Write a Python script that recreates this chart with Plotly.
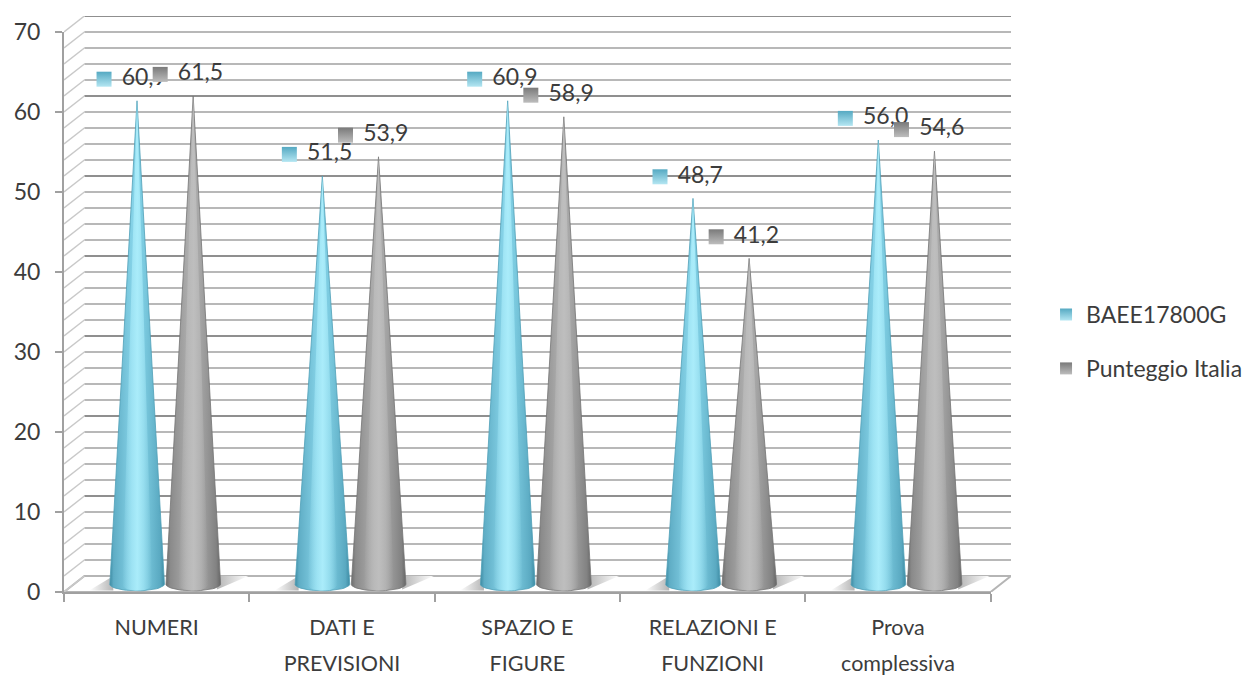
import numpy as np
import plotly.graph_objects as go

categories = ["NUMERI", "DATI E<br>PREVISIONI", "SPAZIO E<br>FIGURE", "RELAZIONI E<br>FUNZIONI", "Prova<br>complessiva"]
baee = [60.9, 51.5, 60.9, 48.7, 56.0]
italia = [61.5, 53.9, 58.9, 41.2, 54.6]
labels_baee = ["60,9", "51,5", "60,9", "48,7", "56,0"]
labels_italia = ["61,5", "53,9", "58,9", "41,2", "54,6"]
series_names = ["BAEE17800G", "Punteggio Italia"]
y_ticks = [0, 10, 20, 30, 40, 50, 60, 70]

TXT = "#3c3c3c"
FONT = "Lato"
DX, DY = 0.11, 2.0        # depth offset of the back wall, in axis units
HW = 0.148                # cone half width
OFF = [0.394, 0.697]      # cone centre inside a category
BLUE = [[0, "#3d8ba3"], [0.07, "#5fadc5"], [0.42, "#86d3e8"], [0.62, "#7ccbe0"], [0.92, "#5aa9c1"], [1, "#3d8ba3"]]
GREY = [[0, "#6d6d6d"], [0.08, "#8a8a8a"], [0.42, "#aeaeae"], [0.62, "#a6a6a6"], [0.92, "#828282"], [1, "#666666"]]
BLUE_CORE = [[0, "rgba(170,236,250,0)"], [0.5, "rgba(170,236,250,1)"], [1, "rgba(170,236,250,0)"]]
GREY_CORE = [[0, "rgba(190,190,190,0)"], [0.5, "rgba(190,190,190,1)"], [1, "rgba(190,190,190,0)"]]

fig = go.Figure()

# floor
fig.add_trace(go.Scatter(x=[0, 5, 5 + DX, DX, 0], y=[0, 0, DY, DY, 0], mode="lines", fill="toself",
                         fillcolor="#ffffff", line=dict(color="#b5b5b5", width=2),
                         showlegend=False, hoverinfo="skip"))

# wall grid and side-wall diagonals
levels = np.arange(2, 72, 2)
def grid(vals, color, width):
    xs, ys = [], []
    for v in vals:
        xs += [DX, 5 + DX, None]
        ys += [v + DY, v + DY, None]
    fig.add_trace(go.Scatter(x=xs, y=ys, mode="lines", line=dict(color=color, width=width),
                             showlegend=False, hoverinfo="skip"))
grid([v for v in levels if v % 10], "#b8b8b8", 2)
grid([v for v in levels if not v % 10], "#8f8f8f", 2)
dx, dy = [], []
for v in np.arange(0, 72, 2):
    dx += [0, DX, None]
    dy += [v, v + DY, None]
fig.add_trace(go.Scatter(x=dx, y=dy, mode="lines", line=dict(color="#c9c9c9", width=1.5),
                         showlegend=False, hoverinfo="skip"))

# soft shadows on the floor
for i in range(len(categories)):
    l = i + OFF[0] - HW
    r = i + OFF[1] + HW
    fig.add_trace(go.Scatter(x=[l - 0.11, l + 0.02, l + 0.02, l - 0.11], y=[0.2, 0.2, DY, 0.2], mode="lines", fill="toself",
                             fillgradient=dict(type="horizontal", colorscale=[[0, "#ffffff"], [1, "#b4b4b4"]]),
                             line=dict(width=0), showlegend=False, hoverinfo="skip"))
    fig.add_trace(go.Scatter(x=[r - 0.02, r + 0.15, r - 0.02, r - 0.02], y=[0.3, DY, DY, 0.3], mode="lines", fill="toself",
                             fillgradient=dict(type="horizontal", colorscale=[[0, "#b4b4b4"], [1, "#ffffff"]]),
                             line=dict(width=0), showlegend=False, hoverinfo="skip"))

# cones: a body plus a narrower highlight so the shading follows the taper
def cone(cx, value, scale, core, edge, name):
    t = np.linspace(np.pi, 2 * np.pi, 25)
    xs = [cx] + list(cx + HW * np.cos(t)) + [cx]
    ys = [value + 0.5] + list(1.0 + 0.85 * np.sin(t)) + [value + 0.5]
    fig.add_trace(go.Scatter(x=xs, y=ys, mode="lines", fill="toself",
                             fillgradient=dict(type="horizontal", colorscale=scale),
                             line=dict(color=edge, width=0.8), name=name, showlegend=False, hoverinfo="skip"))
    hx = [cx] + list(cx + 0.55 * HW * np.cos(t)) + [cx]
    fig.add_trace(go.Scatter(x=hx, y=ys, mode="lines", fill="toself",
                             fillgradient=dict(type="horizontal", colorscale=core),
                             line=dict(width=0), name=name, showlegend=False, hoverinfo="skip"))

for i in range(len(categories)):
    cone(i + OFF[0], baee[i], BLUE, BLUE_CORE, "#4f9fb7", series_names[0])
    cone(i + OFF[1], italia[i], GREY, GREY_CORE, "#747474", series_names[1])

# data labels with their keys
for s, (vals, labs, col, light) in enumerate([(baee, labels_baee, "#55a9c2", "#b4e6f2"),
                                             (italia, labels_italia, "#7a7a7a", "#bdbdbd")]):
    xs = [i + OFF[s] - 0.178 for i in range(len(vals))]
    ys = [v + 3.2 for v in vals]
    fig.add_trace(go.Scatter(x=xs, y=ys, mode="markers", name=series_names[s], legendgroup=series_names[s],
                             marker=dict(symbol="square", size=15, color=col,
                                         gradient=dict(type="vertical", color=light))))
    fig.add_trace(go.Scatter(x=xs, y=ys, mode="text", text=["   " + t for t in labs], textposition="middle right",
                             textfont=dict(family=FONT, size=23, color=TXT), showlegend=False,
                             legendgroup=series_names[s], cliponaxis=False, hoverinfo="skip"))

# invisible trace that brings the front axes (ticks and labels) into being
fig.add_trace(go.Scatter(x=[0, 5], y=[0, 70], xaxis="x2", yaxis="y2", mode="markers", marker=dict(opacity=0, size=1),
                         showlegend=False, hoverinfo="skip"))

front_x = 5 / (5 + DX)
front_y = 70 / (70 + DY)
fig.update_layout(
    width=1251, height=675, autosize=False,
    margin=dict(l=64, r=240, t=16, b=83, autoexpand=False),
    paper_bgcolor="#ffffff", plot_bgcolor="rgba(0,0,0,0)",
    font=dict(family=FONT, color=TXT),
    legend=dict(x=1.037, y=0.519, xanchor="left", yanchor="top", font=dict(family=FONT, size=23, color=TXT),
                tracegroupgap=21, itemsizing="constant", bgcolor="rgba(0,0,0,0)"),
    xaxis=dict(range=[0, 5 + DX], visible=False, fixedrange=True),
    yaxis=dict(range=[0, 70 + DY], visible=False, fixedrange=True),
    xaxis2=dict(domain=[0, front_x], anchor="y2", range=[0, 5], showgrid=False, zeroline=False, showline=True,
                linecolor="#a0a0a0", linewidth=2, automargin=False,
                tickmode="array", tickvals=[i + 0.5 for i in range(5)],
                ticktext=["<span style='font-size:21.5px'>" + c.replace("<br>", "</span><br><span style='font-size:21.5px'>") + "</span>"
                          for c in categories],
                ticks="", tickfont=dict(family=FONT, size=27.7, color=TXT), ticklabelstandoff=8,
                minor=dict(tickmode="array", tickvals=list(range(6)), ticks="outside", ticklen=8,
                           tickcolor="#a0a0a0", tickwidth=2, showgrid=False)),
    yaxis2=dict(domain=[0, front_y], anchor="x2", range=[0, 70], showgrid=False, zeroline=False, showline=True,
                linecolor="#a0a0a0", linewidth=2, automargin=False,
                tickmode="array", tickvals=y_ticks, ticks="outside", ticklen=7, tickcolor="#a0a0a0", tickwidth=2,
                tickfont=dict(family=FONT, size=23, color=TXT), ticklabelstandoff=10),
)

fig.write_html("out.html", post_script="document.body.style.margin='0';", config={"displayModeBar": False})
